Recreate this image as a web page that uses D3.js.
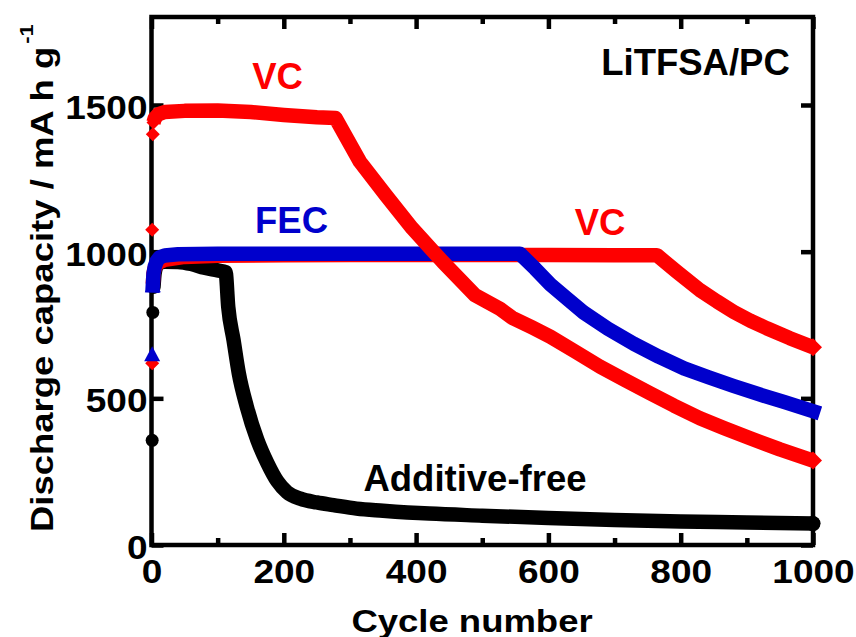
<!DOCTYPE html>
<html>
<head>
<meta charset="utf-8">
<script src="https://cdnjs.cloudflare.com/ajax/libs/d3/7.8.5/d3.min.js"></script>
<style>
  body { margin: 0; background: #fff; }
  svg text { font-family: "Liberation Sans", Arial, sans-serif; font-weight: bold; }
</style>
</head>
<body>
<div id="chart"></div>
<script>
// [cycle, discharge capacity (mA h g-1)]
const additiveFree = [
  [1, 357], [2, 793], [3, 880], [5, 930], [10, 960], [20, 966], [40, 965], [60, 958],
  [80, 945], [100, 936], [112, 930], [116, 812], [124, 699], [132, 585], [144, 472],
  [160, 358], [175, 280], [190, 218], [205, 180], [225, 158], [250, 145], [275, 136],
  [310, 124], [350, 117], [420, 107], [500, 100], [600, 92], [700, 85], [800, 80],
  [900, 77], [1000, 73]
];
const fec = [
  [1, 650], [2, 885], [3, 925], [5, 950], [8, 968], [12, 980], [20, 987], [40, 991],
  [100, 993], [200, 993], [300, 993], [400, 993], [500, 993], [557, 993], [580, 942],
  [603, 888], [628, 840], [653, 793], [690, 737], [729, 686], [767, 642], [805, 602],
  [842, 572], [880, 542], [918, 514], [956, 488], [1000, 456]
];
const vcHigh = [
  [1, 1075], [2, 1400], [3, 1440], [5, 1455], [10, 1468], [20, 1476], [50, 1480],
  [100, 1481], [150, 1476], [200, 1466], [250, 1458], [278, 1456], [315, 1307],
  [354, 1193], [394, 1080], [440, 966], [489, 852], [527, 805], [545, 775], [575, 742],
  [603, 710], [640, 660], [678, 608], [716, 562], [754, 517], [790, 475], [829, 432],
  [866, 398], [905, 364], [950, 326], [1000, 288]
];
const vcLow = [
  [1, 620], [2, 890], [3, 925], [5, 945], [10, 962], [20, 972], [50, 982], [100, 986],
  [200, 988], [300, 989], [400, 989], [500, 989], [600, 989], [700, 988], [764, 988],
  [794, 932], [829, 869], [855, 830], [880, 795], [905, 765], [930, 739], [965, 705], [1000, 674]
];

const xTicks = [0, 200, 400, 600, 800, 1000];
const xMinorTicks = [100, 300, 500, 700, 900];
const yTicks = [0, 500, 1000, 1500];

document.addEventListener('DOMContentLoaded', function () {
    const width = 856;
    const height = 637;
    const plot = { left: 151.5, right: 813, top: 17, bottom: 545 };
    const axisWidth = 4.5;
    const red = "#fe0000", blue = "#0000cc";

    const svg = d3.select("#chart")
        .append("svg")
        .attr("width", width)
        .attr("height", height);

    const x = d3.scaleLinear().domain([0, 1000]).range([plot.left, plot.right]);
    const y = d3.scaleLinear().domain([0, 1800]).range([plot.bottom, plot.top]);

    // ticks point inward on all four sides
    function styleTicks(g) {
        g.select(".domain").remove();
        g.selectAll(".tick line").attr("stroke", "#000").attr("stroke-width", axisWidth);
    }

    const tickFont = 37, tickSy = 0.88;

    svg.append("g")
        .attr("transform", `translate(0,${plot.bottom})`)
        .call(d3.axisBottom(x).tickValues(xTicks).tickSize(-12).tickFormat(d3.format("d")))
        .call(styleTicks)
        .call(g => g.selectAll(".tick text")
            .attr("font-size", tickFont)
            .attr("fill", "#000")
            .attr("dy", null)
            .attr("y", 38 / tickSy)
            .attr("transform", `scale(1,${tickSy})`));

    svg.append("g")
        .attr("transform", `translate(0,${plot.bottom})`)
        .call(d3.axisBottom(x).tickValues(xMinorTicks).tickSize(-7).tickFormat(""))
        .call(styleTicks);

    svg.append("g")
        .attr("transform", `translate(0,${plot.top})`)
        .call(d3.axisTop(x).tickValues(xTicks).tickSize(-12).tickFormat(""))
        .call(styleTicks);

    svg.append("g")
        .attr("transform", `translate(0,${plot.top})`)
        .call(d3.axisTop(x).tickValues(xMinorTicks).tickSize(-7).tickFormat(""))
        .call(styleTicks);

    svg.append("g")
        .attr("transform", `translate(${plot.left},0)`)
        .call(d3.axisLeft(y).tickValues(yTicks).tickSize(-12).tickFormat(d3.format("d")))
        .call(styleTicks)
        .call(g => g.selectAll(".tick text")
            .attr("font-size", tickFont)
            .attr("fill", "#000")
            .attr("x", -4)
            .attr("dy", null)
            .attr("y", 13.5 / tickSy)
            .attr("transform", `scale(1,${tickSy})`));

    svg.append("g")
        .attr("transform", `translate(${plot.right},0)`)
        .call(d3.axisRight(y).tickValues(yTicks).tickSize(-12).tickFormat(""))
        .call(styleTicks);

    // frame
    svg.append("rect")
        .attr("x", plot.left)
        .attr("y", plot.top)
        .attr("width", plot.right - plot.left)
        .attr("height", plot.bottom - plot.top)
        .attr("fill", "none")
        .attr("stroke", "#000")
        .attr("stroke-width", axisWidth);

    // axis titles
    const titleFont = 36.5, titleSy = 0.87;
    svg.append("text")
        .attr("transform", `translate(472,632) scale(1,${titleSy})`)
        .attr("text-anchor", "middle")
        .attr("font-size", titleFont)
        .text("Cycle number");

    const yTitle = svg.append("text")
        .attr("transform", `translate(53,532) rotate(-90) scale(1,${titleSy})`)
        .attr("font-size", titleFont);
    yTitle.append("tspan").text("Discharge capacity / mA h g");
    yTitle.append("tspan").attr("font-size", 22).attr("dx", 3).attr("dy", -23).text("-1");

    // series: leading points that stand alone are drawn only as markers
    const markers = {
        circle: r => `M${-r},0A${r},${r} 0 1,0 ${r},0A${r},${r} 0 1,0 ${-r},0Z`,
        diamond: r => `M0,${-r}L${r},0L0,${r}L${-r},0Z`,
        triangle: r => `M0,${-r}L${r},${r * 0.85}L${-r},${r * 0.85}Z`
    };
    const series = [
        { data: additiveFree, color: "#000", alone: 2, marker: "circle", size: 6.5, end: 7.5,
          curve: d3.curveMonotoneX, cap: "round" },
        { data: vcLow, color: red, alone: 1, marker: "diamond", size: 7, end: 9,
          curve: d3.curveLinear, cap: "butt" },
        { data: fec, color: blue, alone: 1, marker: "triangle", size: 8, end: 0,
          curve: d3.curveLinear, cap: "square" },
        { data: vcHigh, color: red, alone: 2, marker: "diamond", size: 7, end: 9,
          curve: d3.curveLinear, cap: "butt" }
    ];

    series.forEach(s => {
        const line = d3.line()
            .x(d => x(d[0]))
            .y(d => y(d[1]))
            .curve(s.curve);

        svg.append("path")
            .datum(s.data.slice(s.alone))
            .attr("fill", "none")
            .attr("stroke", s.color)
            .attr("stroke-width", 14.5)
            .attr("stroke-linejoin", "round")
            .attr("stroke-linecap", s.cap)
            .attr("d", line);

        const pts = s.data.slice(0, s.alone + 1).map(d => ({ d, r: s.size }));
        if (s.end) pts.push({ d: s.data[s.data.length - 1], r: s.end });
        svg.append("g").selectAll("path")
            .data(pts)
            .enter()
            .append("path")
            .attr("transform", p => `translate(${x(p.d[0])},${y(p.d[1])})`)
            .attr("fill", s.color)
            .attr("d", p => markers[s.marker](p.r));
    });

    // annotations
    const notes = [
        { text: "VC", x: 277.5, y: 89, color: red },
        { text: "FEC", x: 291.5, y: 233, color: blue },
        { text: "VC", x: 600, y: 235, color: red },
        { text: "Additive-free", x: 475, y: 490.7, color: "#000" },
        { text: "LiTFSA/PC", x: 695.5, y: 75, color: "#000" }
    ];
    svg.append("g").selectAll("text")
        .data(notes)
        .enter()
        .append("text")
        .attr("x", d => d.x)
        .attr("y", d => d.y)
        .attr("text-anchor", "middle")
        .attr("font-size", 36.5)
        .attr("fill", d => d.color)
        .text(d => d.text);
});
</script>
</body>
</html>
